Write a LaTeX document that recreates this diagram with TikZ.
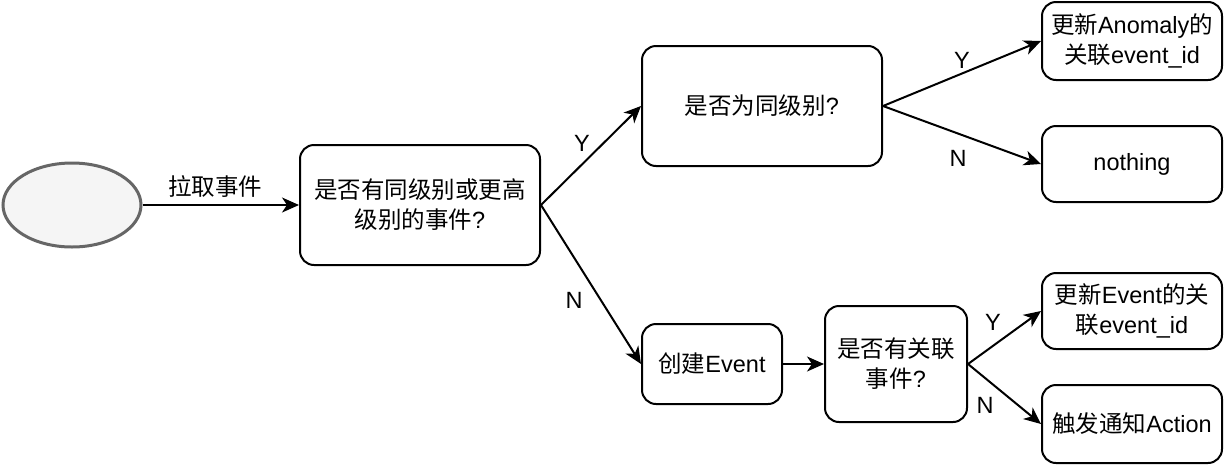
\documentclass[tikz,border=0pt]{standalone}
\usepackage{fontspec}
\setmainfont{Liberation Sans}
\newfontfamily\cjk{Noto Sans CJK SC}
\newcommand{\zh}[1]{{\cjk #1}}
\usetikzlibrary{shapes.geometric,arrows.meta}

\begin{document}
\begin{tikzpicture}[x=1pt,y=-1pt,
  font=\fontsize{23.5}{30}\selectfont,
  box/.style={draw, line width=2pt, rounded corners=14pt, align=center, inner sep=0pt},
  link/.style={line width=2pt, -{Stealth[length=17pt,width=15pt,inset=5pt]}}]
\useasboundingbox (0,0) rectangle (1226,464);
\node[ellipse, draw=black!60, fill=black!4, line width=3pt, minimum width=138pt, minimum height=84pt] (start) at (72,205) {};
\node[box, minimum width=240pt, minimum height=120pt] (q1) at (420,205) {\zh{是否有同级别或更高}\\\zh{级别的事件}?};
\node[box, minimum width=240pt, minimum height=120pt] (q2) at (762,106) {\zh{是否为同级别}?};
\node[box, minimum width=180pt, minimum height=78pt] (upd1) at (1132,41) {\zh{更新}Anomaly\zh{的}\\\zh{关联}event\_id};
\node[box, minimum width=180pt, minimum height=76pt] (none) at (1132,164) {nothing};
\node[box, minimum width=140pt, minimum height=80pt] (cev) at (712,364) {\zh{创建}Event};
\node[box, minimum width=142pt, minimum height=116pt] (q3) at (896,364) {\zh{是否有关联}\\\zh{事件}?};
\node[box, minimum width=180pt, minimum height=76pt] (upd2) at (1132,311) {\zh{更新}Event\zh{的关}\\\zh{联}event\_id};
\node[box, minimum width=180pt, minimum height=78pt] (act) at (1132,424) {\zh{触发通知}Action};
% connectors
\draw[link] (start) -- (q1);
\draw[link] (q1.east) -- (q2.west);
\draw[link] (q1.east) -- (cev.west);
\draw[link] (q2.east) -- (upd1.west);
\draw[link] (q2.east) -- (none.west);
\draw[link] (cev) -- (q3);
\draw[link] (q3.east) -- (upd2.west);
\draw[link] (q3.east) -- (act.west);
% labels
\node (lpull) at (215,187) {\zh{拉取事件}};
\node (ly1) at (582,143) {Y};
\node (ln1) at (574,300) {N};
\node (ly2) at (962,60) {Y};
\node (ln2) at (958,158) {N};
\node (ly3) at (993,322) {Y};
\node (ln3) at (985,405) {N};
\end{tikzpicture}
\end{document}
